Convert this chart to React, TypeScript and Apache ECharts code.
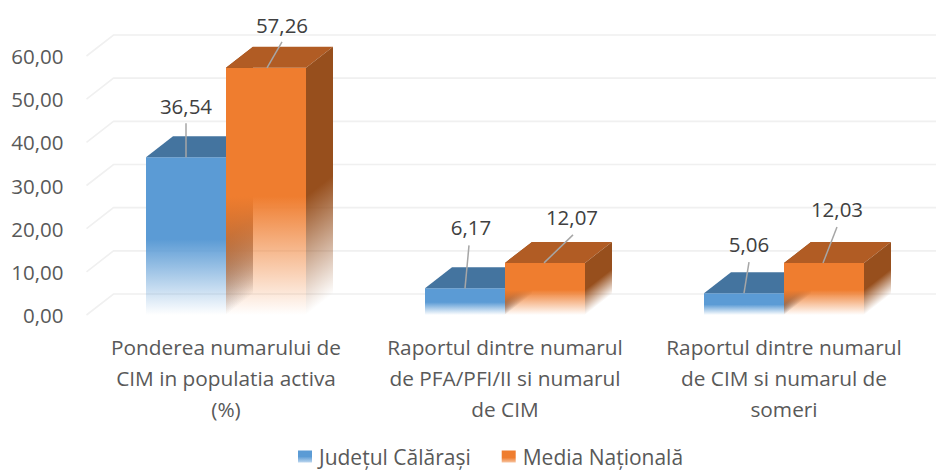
import React, { useEffect, useRef } from "react";
import * as echarts from "echarts";

const categories = [
  "Ponderea numarului de\nCIM in populatia activa\n(%)",
  "Raportul dintre numarul\nde PFA/PFI/II si numarul\nde CIM",
  "Raportul dintre numarul\nde CIM si numarul de\nsomeri",
];
const seriesNames = ["Județul Călărași", "Media Națională"];
const judetValues = [36.54, 6.17, 5.06];
const mediaValues = [57.26, 12.07, 12.03];
const yTicks = [0, 10, 20, 30, 40, 50, 60];

const DEPTH_X = 27;
const DEPTH_Y = -21;
const BAR_W = 80;
const FONT = "'Open Sans', sans-serif";
const TEXT = "#595959";

// leader line: start offset from the bar's centre (ox), vector (dx, dy); label centre offset from line end (tx, ty)
const judetLabelLayout = [
  { ox: 0, dx: 0, dy: -34, tx: 0, ty: -17 },
  { ox: 0, dx: 4, dy: -43, tx: 2, ty: -18 },
  { ox: 0, dx: 5, dy: -31, tx: 0, ty: -18 },
];
const mediaLabelLayout = [
  { ox: 1, dx: 15, dy: -26, tx: 0, ty: -17 },
  { ox: -1, dx: 29, dy: -28, tx: -1, ty: -18 },
  { ox: -1, dx: 14, dy: -36, tx: 0, ty: -18 },
];

function fmt(v: number) {
  return v.toFixed(2).replace(".", ",");
}

function grad(x: number, y: number, x2: number, y2: number, color: string, midAt = 0.5) {
  return {
    type: "linear",
    global: true,
    x,
    y,
    x2,
    y2,
    colorStops: [
      { offset: 0, color },
      { offset: midAt, color },
      { offset: 1, color: color + "00" },
    ],
  } as any;
}

function sideGrad(x: number, yTop: number, yBase: number, color: string) {
  const start = yTop + (yBase - yTop) * 0.52;
  const dist = yBase - start;
  const nx = 0.614,
    ny = 0.789;
  const d = dist * ny;
  return grad(x, start, x + d * nx, start + d * ny, color, 0);
}

function makeBarSeries(
  name: string,
  values: number[],
  idx: number,
  front: string,
  top: string,
  side: string,
  labels: any[],
  inner: boolean
) {
  return {
    type: "custom",
    name,
    z: 5 + idx,
    clip: false,
    data: values.map((v, i) => [i, v]),
    encode: { x: 0, y: 1 },
    itemStyle: { color: front },
    renderItem: (params: any, api: any) => {
      const i = api.value(0);
      const v = api.value(1);
      const [cx, yTop] = api.coord([i, v]);
      const [, yBase] = api.coord([i, 0]);
      const x0 = idx === 0 ? cx - BAR_W : cx;
      const x1 = x0 + BAR_W;
      const h = yBase - yTop;
      const children: any[] = [];
      if (inner) {
        children.push({
          type: "polygon",
          shape: {
            points: [
              [x0, yTop],
              [x0 + DEPTH_X, yTop + DEPTH_Y],
              [x0 + DEPTH_X, yBase + DEPTH_Y],
              [x0, yBase],
            ],
          },
          style: { fill: sideGrad(x0, yTop, yBase, side) },
        });
      }
      children.push({
        type: "rect",
        shape: { x: x0, y: yTop, width: BAR_W, height: h },
        style: { fill: grad(0, yTop, 0, yBase, front, 0.52) },
      });
      children.push({
        type: "polygon",
        shape: {
          points: [
            [x0, yTop],
            [x0 + DEPTH_X, yTop + DEPTH_Y],
            [x1 + DEPTH_X, yTop + DEPTH_Y],
            [x1, yTop],
          ],
        },
        style: { fill: top },
      });
      children.push({
        type: "polygon",
        shape: {
          points: [
            [x1, yTop],
            [x1 + DEPTH_X, yTop + DEPTH_Y],
            [x1 + DEPTH_X, yBase + DEPTH_Y],
            [x1, yBase],
          ],
        },
        style: { fill: sideGrad(x1, yTop, yBase, side) },
      });
      const lay = labels[i];
      const ax = x0 + BAR_W / 2 + lay.ox;
      children.push({
        type: "line",
        z2: 20,
        shape: { x1: ax, y1: yTop, x2: ax + lay.dx, y2: yTop + lay.dy },
        style: { stroke: "#a6a6a6", lineWidth: 1.5 },
      });
      children.push({
        type: "text",
        z2: 21,
        style: {
          text: fmt(v),
          x: ax + lay.dx + lay.tx,
          y: yTop + lay.dy + lay.ty,
          align: "center",
          verticalAlign: "middle",
          fontFamily: FONT,
          fontSize: 20.5,
          fill: "#404040",
        },
      });
      return { type: "group", children };
    },
  };
}

function makeGridSeries() {
  return {
    type: "custom",
    name: "grid",
    silent: true,
    z: 1,
    clip: false,
    data: yTicks.map((t) => [0, t]),
    encode: { x: 0, y: 1 },
    renderItem: (params: any, api: any) => {
      const [, y] = api.coord([0, api.value(1)]);
      const left = params.coordSys.x;
      const right = left + params.coordSys.width;
      return {
        type: "polyline",
        shape: {
          points: [
            [left, y],
            [left + DEPTH_X, y + DEPTH_Y],
            [right + DEPTH_X, y + DEPTH_Y],
          ],
        },
        style: { fill: "none", stroke: "#f0f0f0", lineWidth: 1.6 },
      };
    },
  };
}

export default function App() {
  const ref = useRef<HTMLDivElement>(null);
  useEffect(() => {
    const chart = echarts.init(ref.current!, undefined, { renderer: "svg" });
    chart.setOption({
      animation: false,
      backgroundColor: "#ffffff",
      grid: { left: 86.5, top: 56, width: 837, height: 259 },
      legend: {
        left: 298,
        top: 446,
        padding: 0,
        itemWidth: 14,
        itemHeight: 12,
        itemGap: 31,
        icon: "rect",
        textStyle: { fontFamily: FONT, fontSize: 21, color: TEXT, padding: [0, 0, 0, 2] },
        data: [
          {
            name: seriesNames[0],
            itemStyle: {
              color: {
                type: "linear",
                x: 0,
                y: 0,
                x2: 0,
                y2: 1,
                colorStops: [
                  { offset: 0, color: "#5b9bd5" },
                  { offset: 0.5, color: "#5b9bd5" },
                  { offset: 1, color: "#bcd6ee" },
                ],
              },
            },
          },
          {
            name: seriesNames[1],
            itemStyle: {
              color: {
                type: "linear",
                x: 0,
                y: 0,
                x2: 0,
                y2: 1,
                colorStops: [
                  { offset: 0, color: "#ef7d2f" },
                  { offset: 0.6, color: "#ef7d2f" },
                  { offset: 1, color: "#f7c4a0" },
                ],
              },
            },
          },
        ],
      },
      xAxis: {
        type: "category",
        data: categories,
        axisLine: { show: false },
        axisTick: { show: false },
        axisLabel: {
          interval: 0,
          margin: 16,
          lineHeight: 31,
          fontFamily: FONT,
          fontSize: 20.8,
          color: TEXT,
        },
      },
      yAxis: {
        type: "value",
        min: 0,
        max: 60,
        interval: 10,
        axisLine: { show: false },
        axisTick: { show: false },
        splitLine: { show: false },
        axisLabel: {
          margin: 23,
          fontFamily: FONT,
          fontSize: 20.5,
          color: TEXT,
          formatter: (v: number) => fmt(v),
        },
      },
      series: [
        makeGridSeries(),
        makeBarSeries(seriesNames[0], judetValues, 0, "#5b9bd5", "#44749f", "#3f6f9c", judetLabelLayout, false),
        makeBarSeries(seriesNames[1], mediaValues, 1, "#ef7d2f", "#b15c24", "#974f1d", mediaLabelLayout, true),
      ],
    });
    return () => chart.dispose();
  }, []);
  return <div ref={ref} style={{ position: "absolute", left: 0, top: 0, width: 936, height: 470 }} />;
}
